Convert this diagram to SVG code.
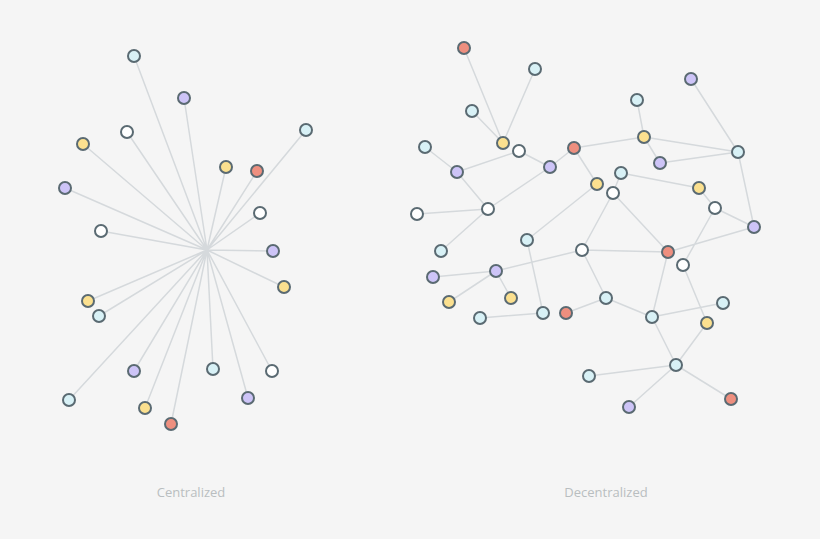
<svg xmlns="http://www.w3.org/2000/svg" width="820" height="539" viewBox="0 0 820 539">
<style>
.e{stroke:#d5d9dc;stroke-width:1.5;fill:none}
.n{stroke:#5a6a72;stroke-width:2}
.b{fill:#d8f1f6}.p{fill:#cdc4f7}.y{fill:#fbe08f}.r{fill:#ee8f7f}.w{fill:#ffffff}
.t{font-family:"Open Sans","Liberation Sans",sans-serif;font-size:13px;fill:#b9bec0;text-anchor:middle}
</style>
<rect width="820" height="539" fill="#f5f5f5"/>
<g id="connectors">
<g id="central-edges" class="e">
<path d="M207 250L134 56M207 250L184 98M207 250L127 132M207 250L83 144M207 250L306 130M207 250L226 167M207 250L257 171M207 250L65 188M207 250L260 213M207 250L101 231M207 250L273 251M207 250L284 287M207 250L88 301M207 250L99 316M207 250L134 371M207 250L213 369M207 250L272 371M207 250L69 400M207 250L145 408M207 250L248 398M207 250L171 424"/>
</g>
<g id="decentral-edges" class="e">
<path d="M464 48L503 143M535 69L503 143M472 111L503 143M425 147L457 172M457 172L519 151M519 151L550 167M550 167L574 148M574 148L644 137M574 148L597 184M457 172L488 209M488 209L550 167M417 214L488 209M488 209L441 251M597 184L527 240M613 193L582 250M621 173L613 193M691 79L738 152M637 100L644 137M644 137L738 152M644 137L660 163M660 163L738 152M738 152L754 227M621 173L699 188M699 188L715 208M715 208L754 227M754 227L668 252M715 208L683 265M613 193L668 252M582 250L668 252M582 250L606 298M582 250L496 271M668 252L652 317M683 265L707 323M606 298L566 313M606 298L652 317M652 317L723 303M652 317L676 365M707 323L676 365M676 365L589 376M676 365L629 407M676 365L731 399M527 240L543 313M433 277L496 271M496 271L449 302M496 271L511 298M480 318L543 313"/>
</g>
</g>
<g id="centralized-nodes" class="n">
<circle id="c1" class="b" cx="134" cy="56" r="6"/>
<circle id="c2" class="p" cx="184" cy="98" r="6"/>
<circle id="c3" class="w" cx="127" cy="132" r="6"/>
<circle id="c4" class="y" cx="83" cy="144" r="6"/>
<circle id="c5" class="b" cx="306" cy="130" r="6"/>
<circle id="c6" class="y" cx="226" cy="167" r="6"/>
<circle id="c7" class="r" cx="257" cy="171" r="6"/>
<circle id="c8" class="p" cx="65" cy="188" r="6"/>
<circle id="c9" class="w" cx="260" cy="213" r="6"/>
<circle id="c10" class="w" cx="101" cy="231" r="6"/>
<circle id="c11" class="p" cx="273" cy="251" r="6"/>
<circle id="c12" class="y" cx="284" cy="287" r="6"/>
<circle id="c13" class="y" cx="88" cy="301" r="6"/>
<circle id="c14" class="b" cx="99" cy="316" r="6"/>
<circle id="c15" class="p" cx="134" cy="371" r="6"/>
<circle id="c16" class="b" cx="213" cy="369" r="6"/>
<circle id="c17" class="w" cx="272" cy="371" r="6"/>
<circle id="c18" class="b" cx="69" cy="400" r="6"/>
<circle id="c19" class="y" cx="145" cy="408" r="6"/>
<circle id="c20" class="p" cx="248" cy="398" r="6"/>
<circle id="c21" class="r" cx="171" cy="424" r="6"/>
</g>
<g id="decentralized-nodes" class="n">
<circle id="d1" class="r" cx="464" cy="48" r="6"/>
<circle id="d2" class="b" cx="535" cy="69" r="6"/>
<circle id="d3" class="b" cx="472" cy="111" r="6"/>
<circle id="d4" class="y" cx="503" cy="143" r="6"/>
<circle id="d5" class="w" cx="519" cy="151" r="6"/>
<circle id="d6" class="b" cx="425" cy="147" r="6"/>
<circle id="d7" class="p" cx="457" cy="172" r="6"/>
<circle id="d8" class="p" cx="550" cy="167" r="6"/>
<circle id="d9" class="r" cx="574" cy="148" r="6"/>
<circle id="d10" class="y" cx="597" cy="184" r="6"/>
<circle id="d11" class="b" cx="621" cy="173" r="6"/>
<circle id="d12" class="w" cx="613" cy="193" r="6"/>
<circle id="d13" class="w" cx="417" cy="214" r="6"/>
<circle id="d14" class="w" cx="488" cy="209" r="6"/>
<circle id="d15" class="b" cx="527" cy="240" r="6"/>
<circle id="d16" class="p" cx="691" cy="79" r="6"/>
<circle id="d17" class="b" cx="637" cy="100" r="6"/>
<circle id="d18" class="y" cx="644" cy="137" r="6"/>
<circle id="d19" class="p" cx="660" cy="163" r="6"/>
<circle id="d20" class="b" cx="738" cy="152" r="6"/>
<circle id="d21" class="y" cx="699" cy="188" r="6"/>
<circle id="d22" class="w" cx="715" cy="208" r="6"/>
<circle id="d23" class="p" cx="754" cy="227" r="6"/>
<circle id="d24" class="r" cx="668" cy="252" r="6"/>
<circle id="d25" class="w" cx="683" cy="265" r="6"/>
<circle id="d26" class="w" cx="582" cy="250" r="6"/>
<circle id="d27" class="b" cx="441" cy="251" r="6"/>
<circle id="d28" class="p" cx="433" cy="277" r="6"/>
<circle id="d29" class="p" cx="496" cy="271" r="6"/>
<circle id="d30" class="y" cx="449" cy="302" r="6"/>
<circle id="d31" class="y" cx="511" cy="298" r="6"/>
<circle id="d32" class="b" cx="480" cy="318" r="6"/>
<circle id="d33" class="b" cx="543" cy="313" r="6"/>
<circle id="d34" class="r" cx="566" cy="313" r="6"/>
<circle id="d35" class="b" cx="606" cy="298" r="6"/>
<circle id="d36" class="b" cx="652" cy="317" r="6"/>
<circle id="d37" class="b" cx="723" cy="303" r="6"/>
<circle id="d38" class="y" cx="707" cy="323" r="6"/>
<circle id="d39" class="b" cx="676" cy="365" r="6"/>
<circle id="d40" class="b" cx="589" cy="376" r="6"/>
<circle id="d41" class="p" cx="629" cy="407" r="6"/>
<circle id="d42" class="r" cx="731" cy="399" r="6"/>
</g>
<g id="labels">
<text class="t" x="191" y="497">Centralized</text>
<text class="t" x="606" y="497">Decentralized</text>
</g>
</svg>
